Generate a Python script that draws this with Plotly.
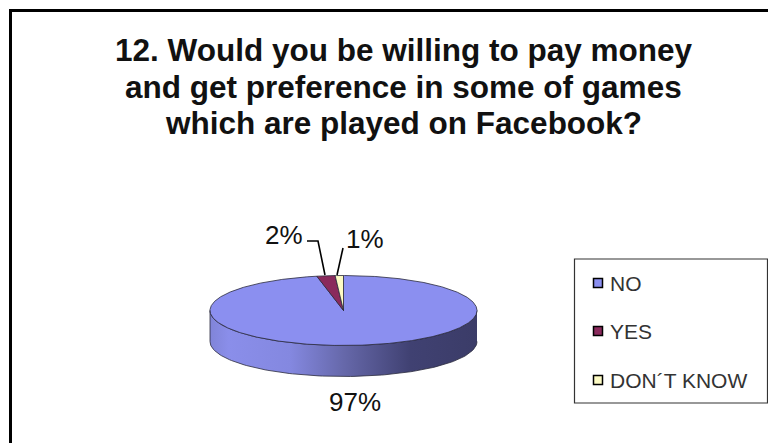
import numpy as np
import plotly.graph_objects as go

categories = ["NO", "YES", "DON´T KNOW"]
values = [96.8, 2.2, 1.0]
value_labels = ["97%", "2%", "1%"]
colors = ["#8b8ff0", "#8a2a5c", "#fdfbc4"]
title_lines = ["12. Would you be willing to pay money",
               "and get preference in some of games",
               "which are played on Facebook?"]

W, H = 768, 443
cx, cy, rx, ry, depth = 343.5, 310.5, 133.5, 35, 31
FONT = "Liberation Sans, Arial, sans-serif"
EDGE = "#2a2a3c"


def pt(theta):
    """theta in degrees, clockwise from 12 o'clock"""
    t = np.radians(theta)
    return cx + rx * np.sin(t), cy - ry * np.cos(t)


fig = go.Figure()

# side wall
th = np.linspace(90, 270, 121)
xs, ys = pt(th)
side_x = np.r_[xs, xs[::-1]]
side_y = np.r_[ys, (ys + depth)[::-1]]
fig.add_trace(go.Scatter(
    x=side_x, y=side_y, mode="lines", fill="toself",
    line=dict(color=EDGE, width=0.8), hoverinfo="skip", showlegend=False,
    fillgradient=dict(type="horizontal", colorscale=[
        [0.0, "#8084d8"], [0.07, "#8a8eea"], [0.3, "#8488e0"],
        [0.5, "#6668aa"], [0.75, "#404172"], [1.0, "#3b3c68"]])))

# slices, clockwise from 12 o'clock; drawn from the values
start = 0.0
total = sum(values)
for name, v, c in zip(categories, values, colors):
    sweep = 360 * v / total
    th = np.linspace(start, start + sweep, max(3, int(sweep * 2)))
    xs, ys = pt(th)
    fig.add_trace(go.Scatter(
        x=np.r_[cx, xs, cx], y=np.r_[cy, ys, cy], mode="lines", fill="toself",
        fillcolor=c, line=dict(color=EDGE, width=0.8), name=name, showlegend=False))
    start += sweep

# leader lines
fig.add_trace(go.Scatter(x=[307, 318, 325], y=[241, 241, 275], mode="lines",
                         line=dict(color="black", width=1.6), showlegend=False, hoverinfo="skip"))
fig.add_trace(go.Scatter(x=[343, 337], y=[248, 275], mode="lines",
                         line=dict(color="black", width=1.6), showlegend=False, hoverinfo="skip"))

annotations = []
for line, y in zip(title_lines, [50, 86.5, 123]):
    annotations.append(dict(x=403, y=y, text=f"<b>{line}</b>", showarrow=False, xanchor="center", yanchor="middle",
                            font=dict(family=FONT, size=31.5, color="#111")))
for lab, x, y in zip(value_labels, [355, 284, 365], [402, 235, 239]):
    annotations.append(dict(x=x, y=y, text=lab, showarrow=False, xanchor="center", yanchor="middle",
                            font=dict(family=FONT, size=26, color="#111")))

# legend
legend_y = [283, 331, 380]
fig.add_trace(go.Scatter(x=[598] * 3, y=legend_y, mode="markers", showlegend=False, hoverinfo="skip",
                         marker=dict(symbol="square", size=9, color=colors,
                                     line=dict(color="black", width=1.5))))
for name, y in zip(categories, legend_y):
    annotations.append(dict(x=608, y=y, text=name, showarrow=False, xanchor="left", yanchor="middle",
                            font=dict(family=FONT, size=21, color="#333")))

shapes = [
    dict(type="rect", x0=574.5, x1=767.5, y0=259, y1=403, line=dict(color="#333", width=1.2), fillcolor="white", layer="below"),
    dict(type="line", x0=10.5, x1=10.5, y0=9, y1=443, line=dict(color="black", width=3)),
    dict(type="line", x0=9, x1=768, y0=10.5, y1=10.5, line=dict(color="black", width=3)),
]

fig.update_layout(
    width=W, height=H, margin=dict(l=0, r=0, t=0, b=0),
    paper_bgcolor="white", plot_bgcolor="white", showlegend=False,
    xaxis=dict(range=[0, W], visible=False, fixedrange=True),
    yaxis=dict(range=[H, 0], visible=False, fixedrange=True),
    annotations=annotations, shapes=shapes,
)
fig.write_html("out.html", config=dict(displayModeBar=False),
               post_script="document.body.style.margin='0';document.documentElement.style.overflow='hidden';")
